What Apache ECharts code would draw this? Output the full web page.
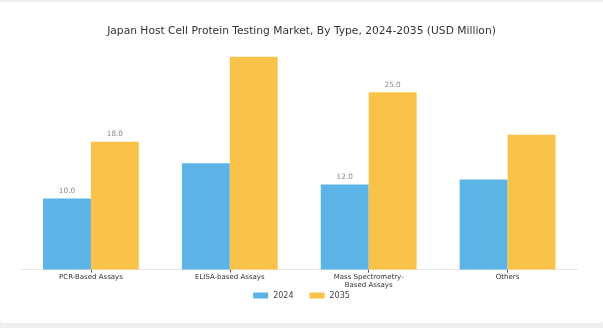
<!DOCTYPE html>
<html>
<head>
<meta charset="utf-8">
<style>
  html, body { margin: 0; padding: 0; background: #efefef; }
  #card { position: absolute; left: 0; top: 2px; width: 603px; height: 321px; background: #fff; border-radius: 0 0 4px 4px; }
  #chart { position: absolute; left: 0; top: -2px; width: 603px; height: 328px; }
</style>
<script src="https://cdn.jsdelivr.net/npm/echarts@6/dist/echarts.min.js"></script>
</head>
<body>
<div id="card"><div id="chart"></div></div>
<script>
const categories = ['PCR-Based Assays', 'ELISA-based Assays', 'Mass Spectrometry-\nBased Assays', 'Others'];
const values2024 = [10.0, 15.0, 12.0, 12.7];
const values2035 = [18.0, 30.0, 25.0, 19.0];
// only these bars carry a value label
const labelled = [true, false, true, false];

const labelStyle = {
  show: true, position: 'top', distance: 4,
  fontSize: 7.3, color: '#8a8a8a', fontFamily: 'DejaVu Sans',
  formatter: p => labelled[p.dataIndex] ? p.value.toFixed(1) : ''
};

const chart = echarts.init(document.getElementById('chart'), null, { renderer: 'canvas' });
chart.setOption({
  backgroundColor: 'transparent',
  animation: false,
  title: {
    text: 'Japan Host Cell Protein Testing Market, By Type, 2024-2035 (USD Million)',
    left: 'center', top: 21,
    textStyle: { fontFamily: 'DejaVu Sans', fontSize: 10.7, fontWeight: 'normal', color: '#333' }
  },
  legend: {
    data: ['2024', '2035'],
    left: 'center', top: 286.5,
    itemWidth: 15, itemHeight: 6, itemGap: 16,
    icon: 'rect',
    textStyle: { fontFamily: 'DejaVu Sans', fontSize: 8, color: '#444' }
  },
  grid: { left: 21.5, right: 26, top: 42.6, bottom: 58.5 },
  xAxis: {
    type: 'category',
    data: categories,
    axisLine: { lineStyle: { color: '#e6e6e6', width: 1 } },
    axisTick: { show: true, alignWithLabel: true, length: 3, lineStyle: { color: '#555' } },
    axisLabel: { fontFamily: 'DejaVu Sans', fontSize: 7, color: '#333', margin: 4, lineHeight: 8, interval: 0 }
  },
  yAxis: {
    type: 'value', min: 0, max: 32,
    show: false, splitLine: { show: false }
  },
  series: [
    {
      name: '2024', type: 'bar', data: values2024,
      barWidth: '34.5%', barGap: '0%',
      itemStyle: { color: '#5cb3e6' },
      label: labelStyle
    },
    {
      name: '2035', type: 'bar', data: values2035,
      barWidth: '34.5%', barGap: '0%',
      itemStyle: { color: '#f9c34a' },
      label: labelStyle
    }
  ]
});
</script>
</body>
</html>
